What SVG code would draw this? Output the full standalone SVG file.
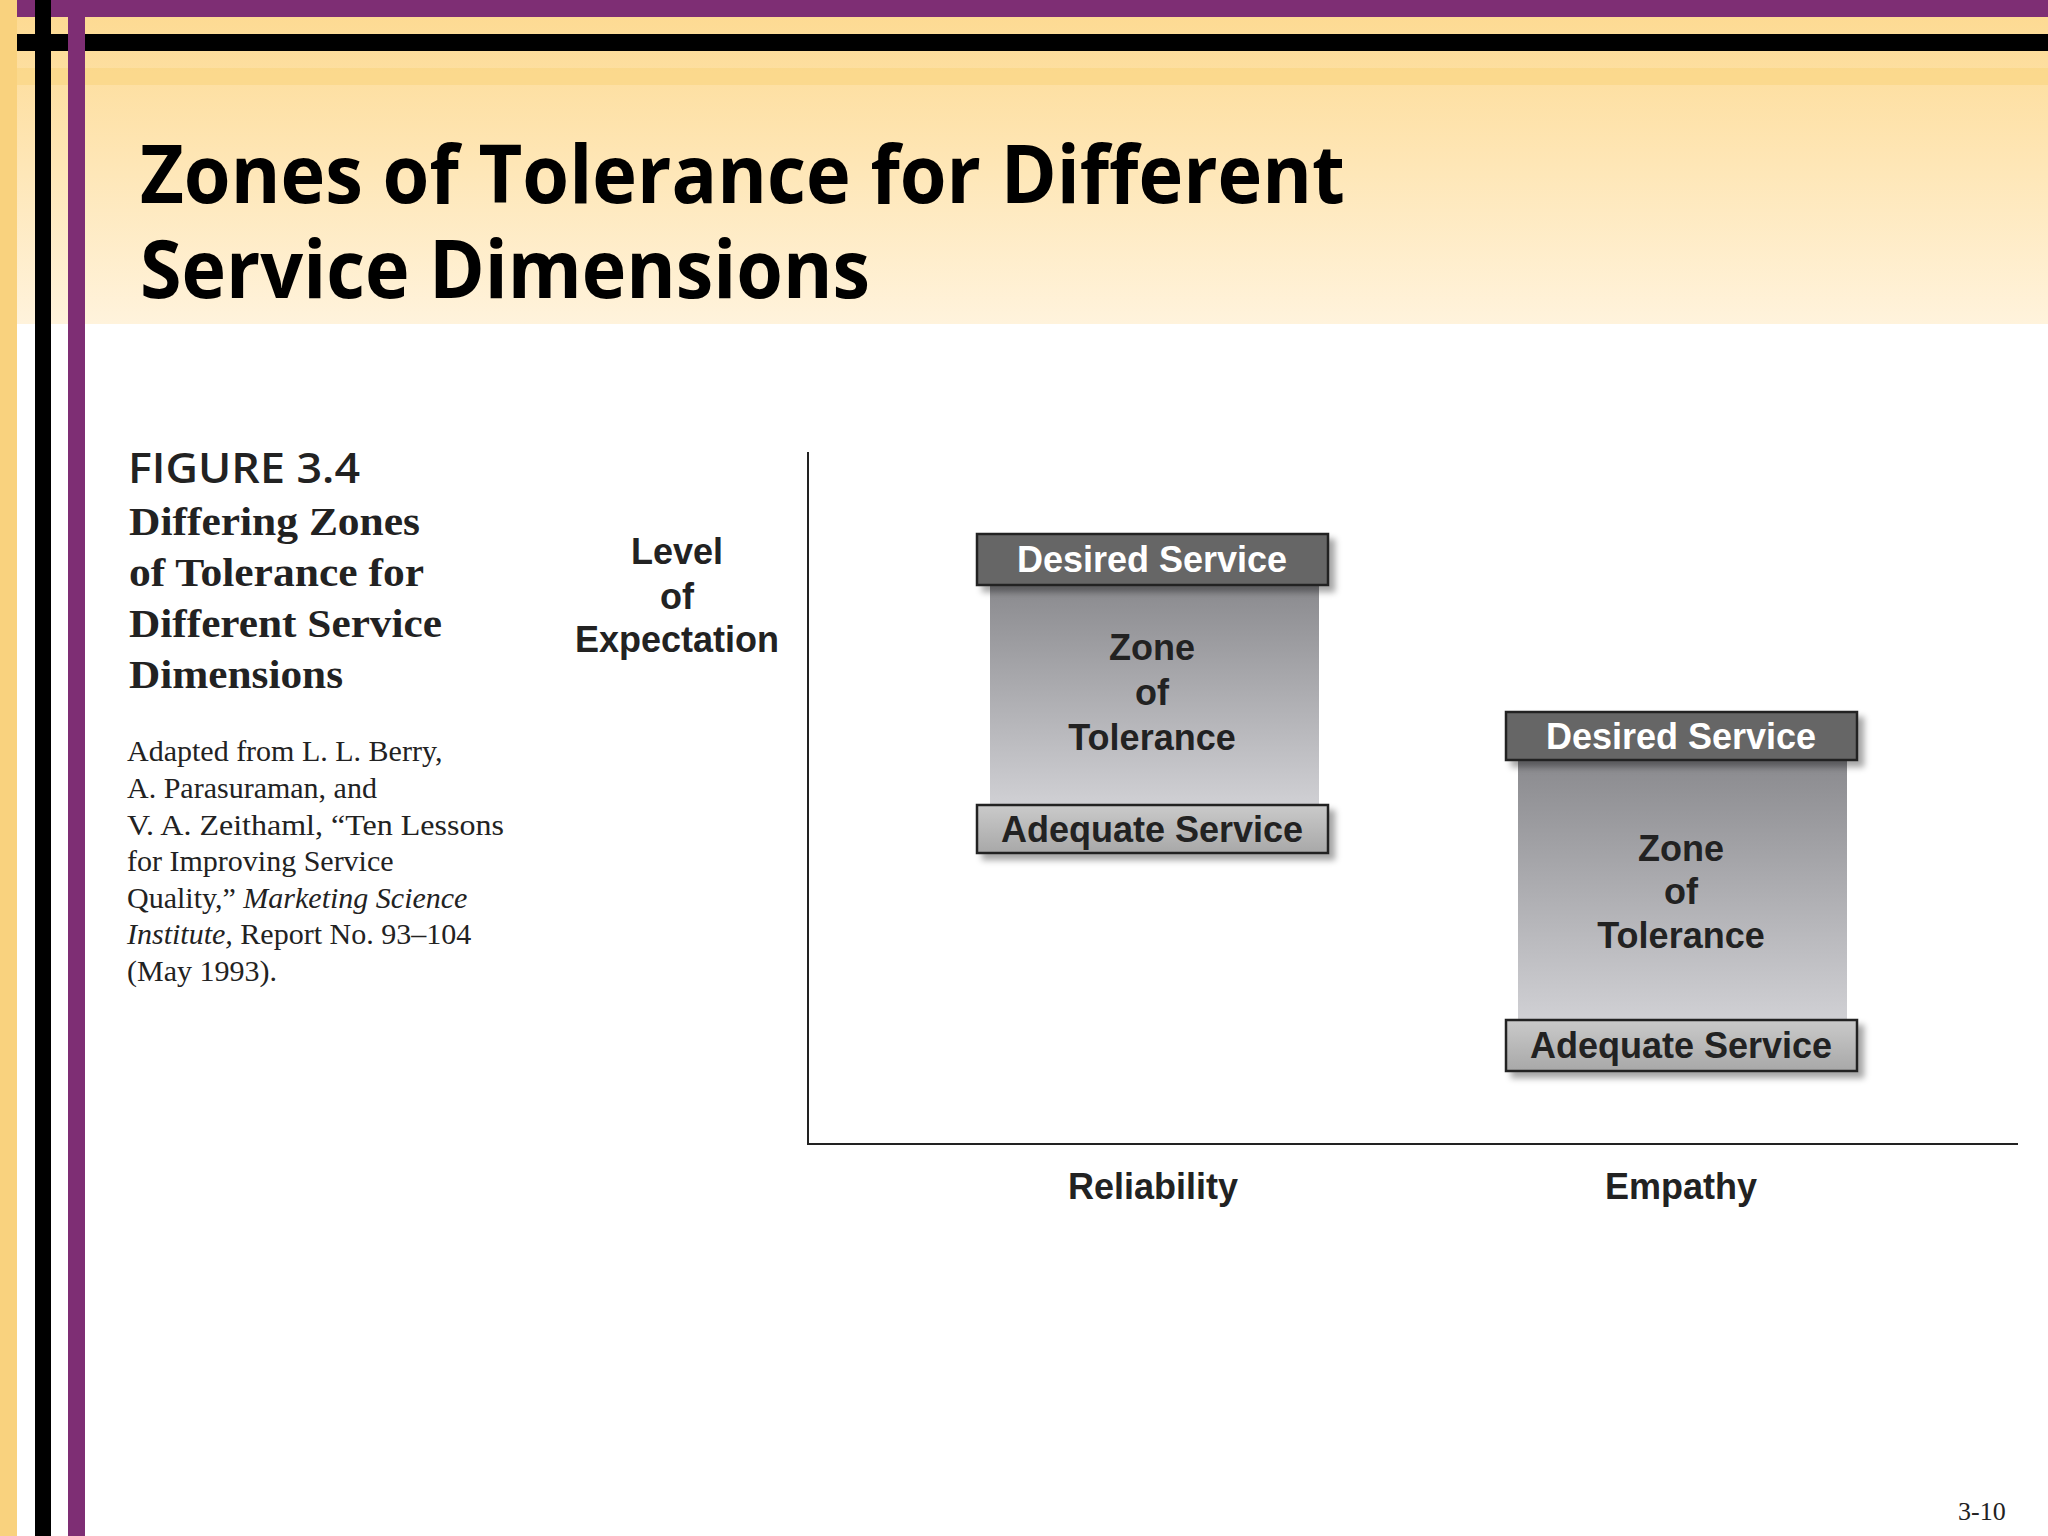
<svg xmlns="http://www.w3.org/2000/svg" width="2048" height="1536" viewBox="0 0 2048 1536">
<defs>
<linearGradient id="hdr" x1="0" y1="0" x2="0" y2="1"><stop offset="0" stop-color="#fdd98f"/><stop offset="1" stop-color="#fff3dc"/></linearGradient>
<linearGradient id="zone" x1="0" y1="0" x2="0" y2="1"><stop offset="0" stop-color="#8a8a8e"/><stop offset="1" stop-color="#d0d0d4"/></linearGradient>
<linearGradient id="adq" x1="0" y1="0" x2="0" y2="1"><stop offset="0" stop-color="#cacaca"/><stop offset="1" stop-color="#a8a8a8"/></linearGradient>
<filter id="sh" x="-10%" y="-20%" width="130%" height="160%"><feDropShadow dx="6" dy="6" stdDeviation="3" flood-color="#000" flood-opacity="0.35"/></filter>
</defs>
<style>
.s{font-family:"Liberation Sans",Arial,sans-serif;font-weight:bold;text-anchor:middle}
.lbl{font-size:36px;fill:#222}
.serif{font-family:"Liberation Serif","Times New Roman",serif;fill:#222}
.ln{stroke:#222;stroke-width:2}
.bar{stroke:#222;stroke-width:2.5}
</style>
<rect width="2048" height="1536" fill="#fff"/>
<rect x="0" y="0" width="2048" height="324" fill="url(#hdr)"/>
<rect x="17" y="68" width="2031" height="17" fill="#f9d584" opacity="0.7"/>
<rect x="0" y="0" width="17" height="1536" fill="#f9d27e"/>
<rect x="17" y="0" width="2031" height="17" fill="#7e2e74"/>
<rect x="17" y="34" width="2031" height="17" fill="#000"/>
<rect x="35" y="0" width="16" height="1536" fill="#000"/>
<rect x="68" y="17" width="17" height="1519" fill="#7e2e74"/>
<g id="title" font-family="'Open Sans','Liberation Sans',sans-serif" font-weight="bold" font-size="80" fill="#000">
<text x="140" y="203" textLength="1205" lengthAdjust="spacingAndGlyphs">Zones of Tolerance for Different</text>
<text x="140" y="298" textLength="730" lengthAdjust="spacingAndGlyphs">Service Dimensions</text>
</g>
<g id="caption">
<text x="128" y="483" font-family="'Open Sans','Liberation Sans',sans-serif" font-weight="600" font-size="42" fill="#222" textLength="232" lengthAdjust="spacingAndGlyphs">FIGURE 3.4</text>
<g class="serif" font-size="39" font-weight="bold">
<text x="129" y="535" textLength="291" lengthAdjust="spacingAndGlyphs">Differing Zones</text>
<text x="129" y="586" textLength="295" lengthAdjust="spacingAndGlyphs">of Tolerance for</text>
<text x="129" y="637" textLength="313" lengthAdjust="spacingAndGlyphs">Different Service</text>
<text x="129" y="688" textLength="214" lengthAdjust="spacingAndGlyphs">Dimensions</text>
</g>
<g class="serif" font-size="30">
<text x="127" y="761">Adapted from L. L. Berry,</text>
<text x="127" y="798">A. Parasuraman, and</text>
<text x="127" y="835" textLength="377" lengthAdjust="spacingAndGlyphs">V. A. Zeithaml, “Ten Lessons</text>
<text x="127" y="871">for Improving Service</text>
<text x="127" y="908">Quality,” <tspan font-style="italic">Marketing Science</tspan></text>
<text x="127" y="944"><tspan font-style="italic">Institute,</tspan> Report No. 93–104</text>
<text x="127" y="981">(May 1993).</text>
</g>
</g>
<g id="ylabel" class="s lbl">
<text x="677" y="564">Level</text><text x="677" y="609">of</text><text x="677" y="652">Expectation</text>
</g>
<g id="axes"><line class="ln" x1="808" y1="452" x2="808" y2="1145"/><line class="ln" x1="807" y1="1144" x2="2018" y2="1144"/></g>
<g id="reliability">
<rect x="990" y="585" width="329" height="220" fill="url(#zone)"/>
<rect class="bar" x="977" y="534" width="351" height="51" fill="#666" filter="url(#sh)"/>
<text class="s" x="1152" y="572" font-size="36" fill="#fff">Desired Service</text>
<g class="s lbl"><text x="1152" y="660">Zone</text><text x="1152" y="705">of</text><text x="1152" y="750">Tolerance</text></g>
<rect class="bar" x="977" y="805" width="351" height="48" fill="url(#adq)" filter="url(#sh)"/>
<text class="s lbl" x="1152" y="842">Adequate Service</text>
</g>
<g id="empathy">
<rect x="1518" y="760" width="329" height="260" fill="url(#zone)"/>
<rect class="bar" x="1506" y="712" width="351" height="48" fill="#666" filter="url(#sh)"/>
<text class="s" x="1681" y="749" font-size="36" fill="#fff">Desired Service</text>
<g class="s lbl"><text x="1681" y="861">Zone</text><text x="1681" y="904">of</text><text x="1681" y="948">Tolerance</text></g>
<rect class="bar" x="1506" y="1020" width="351" height="51" fill="url(#adq)" filter="url(#sh)"/>
<text class="s lbl" x="1681" y="1058">Adequate Service</text>
</g>
<g id="xlabels" class="s lbl"><text x="1153" y="1199">Reliability</text><text x="1681" y="1199">Empathy</text></g>
<text class="serif" x="1958" y="1520" font-size="26">3-10</text>
</svg>
